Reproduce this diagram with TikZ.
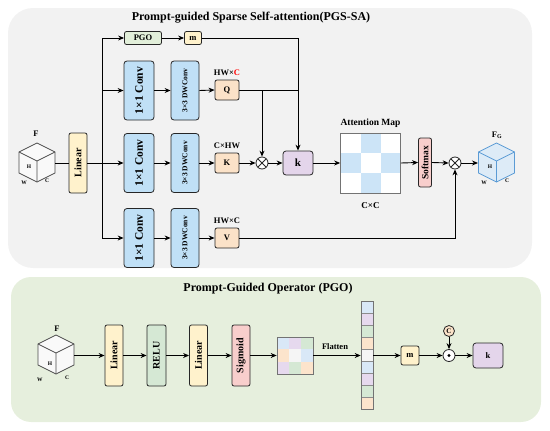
\documentclass[tikz,border=0pt]{standalone}
\usepackage{fontspec}
\setmainfont{Liberation Serif}
\usetikzlibrary{arrows.meta,calc}
\definecolor{panelgray}{RGB}{242,242,242}
\definecolor{panelgreen}{RGB}{230,239,221}
\definecolor{convblue}{RGB}{192,224,246}
\definecolor{peach}{RGB}{251,226,200}
\definecolor{softyellow}{RGB}{255,242,204}
\definecolor{pgogreen}{RGB}{226,239,218}
\definecolor{kpurple}{RGB}{228,213,235}
\definecolor{softpink}{RGB}{248,206,204}
\definecolor{relugreen}{RGB}{213,232,212}
\definecolor{mapblue}{RGB}{204,228,247}
\definecolor{fgblue}{RGB}{221,235,247}
\definecolor{fgedge}{RGB}{91,155,213}
\definecolor{gblue}{RGB}{217,232,247}
\definecolor{gpurple}{RGB}{230,217,238}
\definecolor{ggreen}{RGB}{213,232,212}
\definecolor{gpeach}{RGB}{252,228,204}
\definecolor{gwhite}{RGB}{245,245,245}
\tikzset{
  box/.style={draw=black!85, line width=0.8pt, rounded corners=2pt, inner sep=0pt, align=center, font=\bfseries\fontsize{8.5}{8.5}\selectfont},
  convbox/.style={box, fill=convblue, minimum width=30, minimum height=59, rounded corners=3pt, font=\bfseries\fontsize{11.5}{11.5}\selectfont},
  dwbox/.style={box, fill=convblue, minimum width=28, minimum height=59, rounded corners=3pt, font=\bfseries\fontsize{7.5}{7.5}\selectfont},
  qbox/.style={box, fill=peach, minimum width=24, minimum height=20},
  vbox/.style={box, minimum width=18, minimum height=60, rounded corners=2pt, font=\bfseries\fontsize{10}{10}\selectfont},
  arr/.style={-{Stealth[length=6pt,width=5pt]}, line width=0.9pt},
  ln/.style={line width=0.9pt},
  lab/.style={font=\bfseries\fontsize{8.5}{8.5}\selectfont, inner sep=0pt},
  tiny/.style={font=\bfseries\fontsize{5.5}{5.5}\selectfont, inner sep=0pt},
  opc/.style={circle, draw=black!85, line width=0.8pt, fill=white, minimum size=12, inner sep=0pt},
  otimesop/.style={opc, path picture={\draw[line width=0.8pt] (path picture bounding box.south west) -- (path picture bounding box.north east) (path picture bounding box.north west) -- (path picture bounding box.south east);}},
  cube/.pic={
    \draw[line width=0.7pt, pic actions] (0,-20) -- (18,-11) -- (18,10) -- (0,19) -- (-18,10) -- (-18,-11) -- cycle;
    \draw[line width=0.7pt, pic actions] (-18,-11) -- (0,-2) -- (18,-11) (0,-2) -- (0,19);
  }
}
\begin{document}
\begin{tikzpicture}[x=1pt,y=-1pt]
\useasboundingbox (0,0) rectangle (550,431);
% panels
\fill[panelgray, rounded corners=25] (8,8) rectangle (532,268);
\fill[panelgreen, rounded corners=20] (11,277) rectangle (541,422);
\node[font=\bfseries\fontsize{12}{12}\selectfont] (t1) at (251,18) {Prompt-guided Sparse Self-attention(PGS-SA)};
\node[font=\bfseries\fontsize{12}{12}\selectfont] (t2) at (268,289) {Prompt-Guided Operator (PGO)};

% ---------- top panel ----------
\pic[fill=gray!5, draw=black!70] at (37,163) {cube};
\node[lab] (fl) at (36,134) {F};
\node[tiny] (fh) at (29,167) {H};
\node[tiny] (fw) at (24,183) {W};
\node[tiny] (fc) at (47,181) {C};
\coordinate (fR) at (55,163);

\node[vbox, fill=softyellow] (lin) at (78,163) {\rotatebox{90}{Linear}};
\draw[ln] (fR) -- (lin.west);
\coordinate (sp) at (102,163);
\coordinate (st) at (102,38);
\coordinate (sb) at (102,238);
\draw[ln] (lin.east) -- (sp);
\draw[ln] (st) -- (sb);

\node[box, fill=pgogreen, minimum width=37, minimum height=13] (pgo) at (143,38) {PGO};
\node[box, fill=softyellow, minimum width=17, minimum height=13] (m1) at (193,38) {m};

\node[convbox] (c1) at (139,90.5) {\rotatebox{90}{1×1 Conv}};
\node[convbox] (c2) at (139,163) {\rotatebox{90}{1×1 Conv}};
\node[convbox] (c3) at (139,238) {\rotatebox{90}{1×1 Conv}};
\node[dwbox] (d1) at (185,90.5) {\rotatebox{90}{3×3 DWConv}};
\node[dwbox] (d2) at (185,163) {\rotatebox{90}{3×3 DWConv}};
\node[dwbox] (d3) at (185,238) {\rotatebox{90}{3×3 DWConv}};
\node[qbox] (q) at (227,90) {Q};
\node[qbox] (k) at (227,163) {K};
\node[qbox] (v) at (227,238) {V};
\node[lab] (ql) at (227,73) {HW×\textcolor{red}{C}};
\node[lab] (kl) at (227,146) {C×HW};
\node[lab] (vl) at (227,221) {HW×C};

\draw[arr] (st) -- (pgo.west);
\draw[arr] (sp |- c1.west) -- (c1.west);
\draw[arr] (sp) -- (c2.west);
\draw[arr] (sb) -- (c3.west);
\draw[arr] (pgo.east) -- (m1.west);
\draw[arr] (c1.east) -- (d1.west);
\draw[arr] (c2.east) -- (d2.west);
\draw[arr] (c3.east) -- (d3.west);
\draw[arr] (d1.east) -- (q.west);
\draw[arr] (d2.east) -- (k.west);
\draw[arr] (d3.east) -- (v.west);

\node[otimesop] (ot1) at (262,163) {};
\node[box, fill=kpurple, minimum width=30, minimum height=24, rounded corners=3pt, font=\bfseries\fontsize{11}{11}\selectfont] (kk) at (298,163) {k};
\draw[arr] (m1.east) -| (kk.north);
\draw[ln] (q.east) -- (q.east -| kk.north);
\draw[arr] (q.east -| ot1.north) -- (ot1.north);
\draw[arr] (k.east) -- (ot1.west);
\draw[arr] (ot1.east) -- (kk.west);

% attention map
\fill[white] (340.5,133) rectangle (400.5,193);
\fill[mapblue] (360.5,133) rectangle (380.5,153);
\fill[mapblue] (340.5,153) rectangle (360.5,173);
\fill[mapblue] (380.5,153) rectangle (400.5,173);
\fill[mapblue] (360.5,173) rectangle (380.5,193);
\node[draw=black!55, line width=0.7pt, minimum width=60, minimum height=60, inner sep=0pt] (am) at (370.5,163) {};
\node[lab, font=\bfseries\fontsize{9.5}{9.5}\selectfont] (aml) at (370.5,123) {Attention Map};
\node[lab, font=\bfseries\fontsize{9}{9}\selectfont] (ccl) at (370.5,206) {C×C};
\draw[arr] (kk.east) -- (am.west);

\node[box, fill=softpink, minimum width=13, minimum height=49, font=\bfseries\fontsize{9.5}{9.5}\selectfont] (sm) at (425,162.5) {\rotatebox{90}{Softmax}};
\draw[arr] (am.east) -- (sm.west);
\node[otimesop] (ot2) at (455,163) {};
\draw[arr] (sm.east) -- (ot2.west);
\draw[arr] (v.east) -| (ot2.south);

\pic[fill=fgblue, draw=fgedge] at (496.5,163) {cube};
\node[lab] (fgl) at (497,135) {F\textsubscript{G}};
\node[tiny] (gh) at (490,167) {H};
\node[tiny] (gw) at (484,183) {W};
\node[tiny] (gc) at (507,181) {C};
\coordinate (fgL) at (478,163);
\draw[arr] (ot2.east) -- (fgL);

% ---------- bottom panel ----------
\pic[fill=gray!5, draw=black!70] at (56,355) {cube};
\node[lab] (bfl) at (57,329) {F};
\node[tiny] (bh) at (50,364) {H};
\node[tiny] (bw) at (40,380) {W};
\node[tiny] (bc) at (67,378) {C};
\coordinate (bfR) at (74,355.5);

\node[vbox, fill=softyellow, minimum height=61] (bl1) at (114,355.5) {\rotatebox{90}{Linear}};
\node[vbox, fill=relugreen, minimum height=61, minimum width=19] (relu) at (156.5,355.5) {\rotatebox{90}{RELU}};
\node[vbox, fill=softyellow, minimum height=61] (bl2) at (198.5,355.5) {\rotatebox{90}{Linear}};
\node[vbox, fill=softpink, minimum height=61] (sig) at (241,355.5) {\rotatebox{90}{Sigmoid}};
\draw[arr] (bfR) -- (bl1.west);
\draw[arr] (bl1.east) -- (relu.west);
\draw[arr] (relu.east) -- (bl2.west);
\draw[arr] (bl2.east) -- (sig.west);

% 3x3 grid
\fill[gblue]   (277,337) rectangle (289,349.33);
\fill[gpurple] (289,337) rectangle (301,349.33);
\fill[ggreen]  (301,337) rectangle (313,349.33);
\fill[gpeach]  (277,349.33) rectangle (289,361.67);
\fill[gwhite]  (289,349.33) rectangle (301,361.67);
\fill[gblue]   (301,349.33) rectangle (313,361.67);
\fill[gpurple] (277,361.67) rectangle (289,374);
\fill[ggreen]  (289,361.67) rectangle (301,374);
\fill[gpeach]  (301,361.67) rectangle (313,374);
\node[draw=black!55, line width=0.7pt, minimum width=36, minimum height=37, inner sep=0pt] (grid) at (295,355.5) {};
\draw[arr] (sig.east) -- (grid.west);

% column
\foreach \c [count=\i from 0] in {gblue,gpurple,ggreen,gpeach,gwhite,gblue,gpurple,ggreen,gpeach}{
  \filldraw[fill=\c, draw=black!45, line width=0.5pt] (361,301.5+12*\i) rectangle (373,313.5+12*\i);
}
\node[draw=black!55, line width=0.7pt, minimum width=12, minimum height=108, inner sep=0pt] (col) at (367,355.5) {};
\node[lab] (flat) at (335,347) {Flatten};
\draw[arr] (grid.east) -- (col.west);

\node[box, fill=softyellow, minimum width=18, minimum height=19] (m2) at (410,355.5) {m};
\draw[arr] (col.east) -- (m2.west);
\node[opc] (od) at (449,355.5) {};
\fill (od.center) circle (1.6);
\node[opc, fill=peach, minimum size=11, font=\bfseries\fontsize{7}{7}\selectfont] (cc) at (449,331) {C};
\draw[arr] (cc.south) -- (od.north);
\draw[arr] (m2.east) -- (od.west);
\node[box, fill=kpurple, minimum width=30, minimum height=25, rounded corners=3pt] (k2) at (488,355.5) {k};
\draw[arr] (od.east) -- (k2.west);
\end{tikzpicture}
\end{document}
